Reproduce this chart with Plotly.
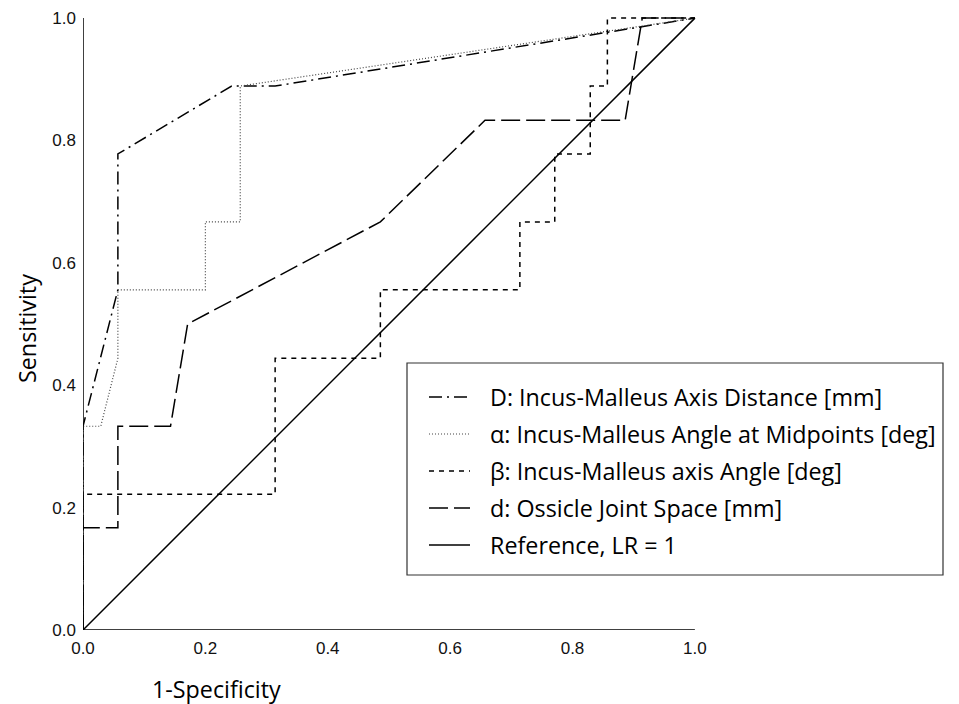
import plotly.graph_objects as go

# ---- data ----
d_axis_x = [0, 0, 0.057, 0.057, 0.243, 0.314, 1.0]
d_axis_y = [0, 0.333, 0.556, 0.778, 0.889, 0.889, 1.0]

alpha_x = [0, 0, 0.029, 0.057, 0.057, 0.2, 0.2, 0.257, 0.257, 1.0]
alpha_y = [0, 0.333, 0.333, 0.444, 0.556, 0.556, 0.667, 0.667, 0.889, 1.0]

beta_x = [0, 0, 0.314, 0.314, 0.486, 0.486, 0.714, 0.714, 0.771, 0.771, 0.829, 0.829, 0.857, 0.857, 1.0]
beta_y = [0, 0.222, 0.222, 0.444, 0.444, 0.556, 0.556, 0.667, 0.667, 0.778, 0.778, 0.889, 0.889, 1.0, 1.0]

joint_x = [0, 0, 0.057, 0.057, 0.143, 0.171, 0.486, 0.657, 0.886, 0.914, 1.0]
joint_y = [0, 0.167, 0.167, 0.333, 0.333, 0.5, 0.667, 0.833, 0.833, 1.0, 1.0]

ref_x = [0, 1]
ref_y = [0, 1]

names = [
    "D: Incus-Malleus Axis Distance [mm]",
    "α: Incus-Malleus Angle at Midpoints [deg]",
    "β: Incus-Malleus axis Angle [deg]",
    "d: Ossicle Joint Space [mm]",
    "Reference, LR = 1",
]
tick_vals = [0.0, 0.2, 0.4, 0.6, 0.8, 1.0]
tick_text = ["0.0", "0.2", "0.4", "0.6", "0.8", "1.0"]

styles = [
    dict(color="black", width=1.5, dash="13px,5px,2px,5px"),
    dict(color="#444444", width=1.2, dash="1px,2px"),
    dict(color="black", width=1.5, dash="5px,5px"),
    dict(color="black", width=1.5, dash="19px,6px"),
    dict(color="black", width=1.5, dash="solid"),
]
series = [(d_axis_x, d_axis_y), (alpha_x, alpha_y), (beta_x, beta_y),
          (joint_x, joint_y), (ref_x, ref_y)]

fig = go.Figure()
for (xs, ys), nm, st in zip(series, names, styles):
    fig.add_trace(go.Scatter(x=xs, y=ys, mode="lines", name=nm, line=st,
                             showlegend=False))

# axis lines
fig.add_shape(type="line", xref="x", yref="y", x0=0, y0=0, x1=0, y1=1,
              line=dict(color="black", width=1.5))
fig.add_shape(type="line", xref="x", yref="y", x0=0, y0=0, x1=1, y1=0,
              line=dict(color="black", width=1.5))

# page has an 8px body margin; positions below are in page pixels
OFF = 8
FW, FH = 959 - 2 * OFF, 704 - OFF
L, PW, B, PH = 83 - OFF, 618, 630 - OFF, 618
def px(p):
    return (p - OFF - L) / PW
def py(p):
    return (B - (p - OFF)) / PH

TXT = dict(family="Open Sans", size=23.3, color="black")

fig.add_shape(type="rect", xref="paper", yref="paper",
              x0=px(407), x1=px(943), y0=py(575), y1=py(363),
              line=dict(color="#333333", width=1.2), fillcolor="white", layer="above")
rows = [397, 434, 471, 508, 545]
for nm, st, r in zip(names, styles, rows):
    fig.add_shape(type="line", xref="paper", yref="paper",
                  x0=px(429), x1=px(470), y0=py(r), y1=py(r), line=st, layer="above")
    fig.add_annotation(xref="paper", yref="paper", x=px(488), y=py(r),
                       text=nm, showarrow=False, xanchor="left", yanchor="middle",
                       font=TXT)

fig.add_annotation(xref="paper", yref="paper", x=px(27), y=py(328), text="Sensitivity",
                   textangle=-90, showarrow=False, xanchor="center", yanchor="middle",
                   font=TXT)
fig.add_annotation(xref="paper", yref="paper", x=px(216), y=py(689), text="1-Specificity",
                   showarrow=False, xanchor="center", yanchor="middle",
                   font=TXT)

fig.update_layout(
    width=FW, height=FH,
    margin=dict(l=L, r=FW - L - PW, t=B - PH, b=FH - B),
    plot_bgcolor="white", paper_bgcolor="white",
    showlegend=False,
)
fig.update_xaxes(range=[0, 1.01], tickvals=tick_vals, ticktext=tick_text,
                 showgrid=False, zeroline=False, showline=False, ticks="",
                 ticklabelstandoff=6, automargin=False,
                 tickfont=dict(family="Liberation Sans", size=17, color="#111111"))
fig.update_yaxes(range=[0, 1.01], tickvals=tick_vals, ticktext=tick_text,
                 showgrid=False, zeroline=False, showline=False, ticks="",
                 ticklabelstandoff=6, automargin=False,
                 tickfont=dict(family="Liberation Sans", size=17, color="#111111"))

fig.write_html("out.html")
